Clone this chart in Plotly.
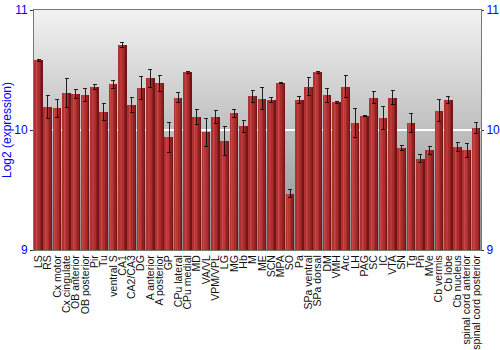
import plotly.graph_objects as go

categories = ["LS", "RS", "Cx motor", "Cx cingulate", "OB anterior", "OB posterior", "Pir", "Tu",
              "ventral S", "CA1", "CA2/CA3", "DG", "A anterior", "A posterior", "GP", "CPu lateral",
              "CPu medial", "MD", "VA/VL", "VPM/VPL", "LG", "MG", "Hb", "M", "ME", "SCN", "MPA", "SO",
              "Pa", "SPa ventral", "SPa dorsal", "DM", "VMH", "Arc", "LH", "PAG", "SC", "IC", "VTA",
              "SN", "Tg", "Pn", "MVe", "Cb vermis", "Cb lobe", "Cb nucleus", "spinal cord anterior",
              "spinal cord posterior"]

values = [10.58, 10.19, 10.18, 10.31, 10.30, 10.29, 10.36, 10.15,
          10.38, 10.71, 10.21, 10.35, 10.43, 10.39, 9.94, 10.27,
          10.48, 10.11, 9.98, 10.11, 9.91, 10.14, 10.03, 10.28, 10.26, 10.25, 10.39, 9.47,
          10.25, 10.36, 10.48, 10.29, 10.23, 10.36, 10.06, 10.12, 10.27, 10.10, 10.27,
          9.85, 10.06, 9.76, 9.83, 10.16, 10.25, 9.86, 9.83,
          10.02]

errors = [0.01, 0.097, 0.075, 0.12, 0.036, 0.054, 0.02, 0.074,
          0.036, 0.02, 0.06, 0.093, 0.074, 0.067, 0.125, 0.044,
          0.005, 0.06, 0.117, 0.056, 0.12, 0.032, 0.047, 0.051, 0.093, 0.021, 0.005, 0.033,
          0.028, 0.075, 0.005, 0.057, 0.01, 0.093, 0.12, 0.005, 0.053, 0.097, 0.057,
          0.017, 0.08, 0.032, 0.033, 0.092, 0.033, 0.037, 0.057,
          0.046]

y_ticks = [9, 10, 11]
y_range = [9, 11]

x = list(range(len(categories)))
FONT = "Arial, 'Liberation Sans', sans-serif"
BLUE = "#0000ff"

fig = go.Figure()

# horizontal shading of bars via stacked stripes
stripes = [(0.88, "rgb(112,22,22)"), (0.74, "rgb(145,33,33)"), (0.58, "rgb(170,44,44)"),
           (0.40, "rgb(186,56,56)"), (0.22, "rgb(198,70,70)"), (0.08, "rgb(175,50,50)")]
for w, c in stripes:
    fig.add_trace(go.Bar(x=x, y=values, width=w, offset=-0.44, marker=dict(color=c, line=dict(width=0)),
                         hoverinfo="skip", showlegend=False))

fig.add_trace(go.Bar(x=x, y=values, width=0.88, offset=-0.44,
                     marker=dict(color="rgba(0,0,0,0)", line=dict(width=0)),
                     error_y=dict(type="data", array=errors, visible=True, color="rgba(0,0,0,0.85)",
                                  thickness=1, width=2),
                     showlegend=False))

# invisible trace to activate right axis
fig.add_trace(go.Scatter(x=[x[0]], y=[values[0]], yaxis="y2", mode="markers",
                         marker=dict(opacity=0), hoverinfo="skip", showlegend=False))

# background vertical gradient
n = 120
shapes = []
for i in range(n):
    t = i / (n - 1)
    g = int(round(140 + (242 - 140) * t))
    y0 = y_range[0] + (y_range[1] - y_range[0]) * i / n
    y1 = y_range[0] + (y_range[1] - y_range[0]) * (i + 1) / n
    shapes.append(dict(type="rect", xref="x domain", yref="y", x0=0, x1=1, y0=y0, y1=y1 + 0.002,
                       fillcolor=f"rgb({g},{g},{g})", line=dict(width=0), layer="below"))

fig.update_layout(
    width=500, height=350,
    margin=dict(l=34, r=19, t=10, b=100, autoexpand=False),
    barmode="overlay",
    bargap=0,
    paper_bgcolor="white",
    plot_bgcolor="white",
    shapes=shapes,
    font=dict(family=FONT, size=11, color="#222"),
    xaxis=dict(tickmode="array", tickvals=x, ticktext=categories, tickangle=-90,
               range=[-0.5, len(categories) - 0.5], showgrid=False, ticks="", automargin=False,
               tickfont=dict(size=10.5, color="#111"), showline=True, linecolor="#777",
               linewidth=1, mirror=True),
    yaxis=dict(range=y_range, tickvals=y_ticks, ticks="outside", ticklen=3, tickcolor="#333",
               tickfont=dict(size=12, color=BLUE), showgrid=True, gridcolor="white", gridwidth=1.5,
               zeroline=False, showline=True, linecolor="#777", linewidth=1, mirror=True,
               automargin=False,
               title=dict(text="Log2 (expression)", font=dict(size=12, color=BLUE), standoff=4)),
    yaxis2=dict(range=y_range, tickvals=y_ticks, overlaying="y", side="right", ticks="outside",
                ticklen=2, tickcolor="#333", tickfont=dict(size=12, color=BLUE), showgrid=False,
                zeroline=False, showline=False, automargin=False),
)

fig.write_html("out.html")
